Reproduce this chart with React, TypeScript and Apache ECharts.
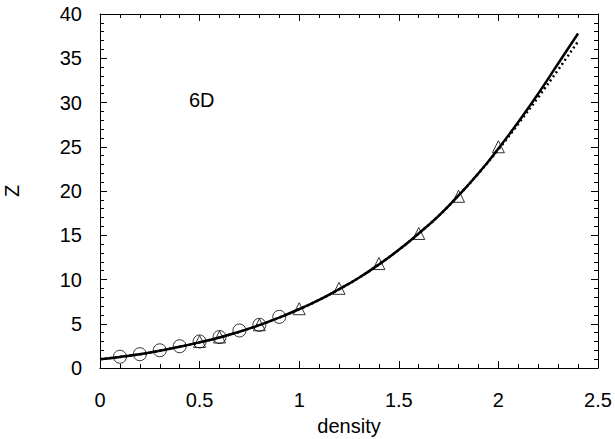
import React, { useEffect, useRef } from "react";
import * as echarts from "echarts";

const circleX = [0.1, 0.2, 0.3, 0.4, 0.5, 0.6, 0.7, 0.8, 0.9];
const circleZ = [1.27, 1.56, 2.0, 2.46, 3.0, 3.5, 4.24, 4.88, 5.78];

const triX = [0.5, 0.6, 0.8, 1.0, 1.2, 1.4, 1.6, 1.8, 2.0];
const triZ = [3.0, 3.5, 4.88, 6.7, 9.0, 11.8, 15.2, 19.4, 25.0];

const curveX = [0, 0.1, 0.2, 0.3, 0.4, 0.5, 0.6, 0.7, 0.8, 0.9, 1.0, 1.1, 1.2, 1.3, 1.4, 1.5, 1.6, 1.7, 1.8, 1.9, 2.0, 2.1, 2.2, 2.3, 2.4];
const solidZ = [1.0, 1.25, 1.55, 1.95, 2.4, 2.9, 3.45, 4.1, 4.85, 5.7, 6.65, 7.7, 8.9, 10.2, 11.7, 13.35, 15.2, 17.2, 19.5, 22.0, 24.8, 27.8, 31.0, 34.4, 37.8];
const dottedZ = [1.0, 1.25, 1.55, 1.95, 2.4, 2.9, 3.45, 4.1, 4.85, 5.7, 6.65, 7.7, 8.9, 10.2, 11.7, 13.35, 15.2, 17.2, 19.5, 22.0, 24.7, 27.6, 30.6, 33.7, 36.9];

const xLabel = "density";
const yLabel = "Z";
const panelLabel = "6D";

const FONT = "Liberation Sans, Arial, Helvetica, sans-serif";
const FS = 20;

export default function App() {
  const ref = useRef<HTMLDivElement>(null);
  useEffect(() => {
    if (!ref.current) return;
    const chart = echarts.init(ref.current, undefined, { renderer: "svg" });
    const zip = (xs: number[], ys: number[]) => xs.map((x, i) => [x, ys[i]]);
    const axisCommon = {
      axisLine: { show: true, onZero: false, lineStyle: { color: "#000", width: 1 } },
      axisTick: { show: true, inside: true, length: 7, lineStyle: { color: "#000", width: 1 } },
      minorTick: { show: true, splitNumber: 5, length: 4, lineStyle: { color: "#000", width: 1 } },
      splitLine: { show: false },
    };
    chart.setOption({
      animation: false,
      backgroundColor: "#fff",
      grid: { left: 100, top: 14, width: 498, height: 354, outerBoundsMode: "none", containLabel: false },
      xAxis: [
        {
          type: "value", min: 0, max: 2.5, interval: 0.5, position: "bottom",
          ...axisCommon,
          axisLabel: { color: "#000", fontSize: FS, fontFamily: FONT, margin: 22 },
          name: xLabel, nameLocation: "middle", nameGap: 48,
          nameTextStyle: { color: "#000", fontSize: FS, fontFamily: FONT },
        },
        {
          type: "value", min: 0, max: 2.5, interval: 0.5, position: "top",
          ...axisCommon, axisLabel: { show: false },
        },
      ],
      yAxis: [
        {
          type: "value", min: 0, max: 40, interval: 5, position: "left",
          ...axisCommon,
          axisLabel: { color: "#000", fontSize: FS, fontFamily: FONT, margin: 18 },
          name: yLabel, nameLocation: "middle", nameGap: 78, nameRotate: 90,
          nameTextStyle: { color: "#000", fontSize: FS, fontFamily: FONT },
        },
        {
          type: "value", min: 0, max: 40, interval: 5, position: "right",
          ...axisCommon, axisLabel: { show: false },
        },
      ],
      graphic: [
        {
          type: "text", left: 189, top: 90,
          style: { text: panelLabel, fontSize: FS, fontFamily: FONT, fill: "#000" },
        },
      ],
      series: [
        {
          type: "scatter", data: zip(circleX, circleZ), symbol: "circle", symbolSize: 13,
          itemStyle: { color: "none", borderColor: "#000", borderWidth: 1 },
        },
        {
          type: "scatter", data: zip(triX, triZ), symbol: "triangle", symbolSize: 12,
          itemStyle: { color: "none", borderColor: "#000", borderWidth: 1 },
        },
        {
          type: "line", data: zip(curveX, dottedZ), smooth: true, showSymbol: false,
          lineStyle: { color: "#000", width: 2.5, type: [2, 3] },
        },
        {
          type: "line", data: zip(curveX, solidZ), smooth: true, showSymbol: false,
          lineStyle: { color: "#000", width: 2.5 },
        },
      ],
    });
    return () => chart.dispose();
  }, []);
  return (
    <div
      ref={ref}
      style={{ position: "fixed", left: 0, top: 0, width: 615, height: 439, background: "#fff" }}
    />
  );
}
